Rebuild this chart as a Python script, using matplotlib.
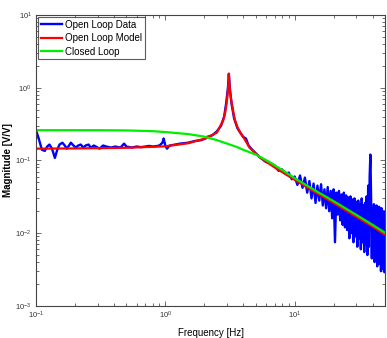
import matplotlib
matplotlib.use("Agg")
import matplotlib.pyplot as plt
from matplotlib.ticker import LogLocator, NullFormatter

plt.rcParams["font.family"] = ["Liberation Sans", "DejaVu Sans"]

# open loop measurement (noisy), low/mid frequency part
data_freq_low = [
  0.100, 0.105, 0.111, 0.117, 0.122, 0.127, 0.133, 0.140, 0.146, 0.152,
  0.160, 0.167, 0.173, 0.180, 0.186, 0.195, 0.203, 0.212, 0.222, 0.232,
  0.242, 0.255, 0.265, 0.28, 0.29, 0.31, 0.33, 0.35, 0.38, 0.41,
  0.45, 0.48, 0.50, 0.55, 0.6, 0.65, 0.7, 0.75, 0.8, 0.85,
  0.9, 0.95, 0.97, 1.0, 1.03, 1.08, 1.15, 1.3, 1.5, 1.7,
  1.9, 2.05, 2.1, 2.3, 2.5, 2.7, 2.85, 2.95, 3.05, 3.1,
  3.15, 3.25, 3.4, 3.6, 3.8, 4.0, 4.2, 4.4, 4.7, 5.0,
  5.4, 6.0, 6.5, 7.0, 7.5, 8.0, 8.5, 9.0, 9.5,
]
data_mag_low = [
  0.26, 0.20, 0.14, 0.135, 0.155, 0.165, 0.145, 0.108, 0.14, 0.165,
  0.175, 0.16, 0.145, 0.16, 0.175, 0.16, 0.15, 0.16, 0.165, 0.15,
  0.16, 0.165, 0.15, 0.16, 0.155, 0.145, 0.16, 0.155, 0.15, 0.155,
  0.15, 0.17, 0.155, 0.15, 0.155, 0.152, 0.155, 0.158, 0.155, 0.157,
  0.16, 0.175, 0.20, 0.16, 0.145, 0.16, 0.163, 0.17, 0.175, 0.185,
  0.19, 0.20, 0.21, 0.22, 0.25, 0.30, 0.40, 0.60, 1.0, 1.55,
  1.0, 0.60, 0.38, 0.28, 0.24, 0.21, 0.20, 0.16, 0.14, 0.125,
  0.11, 0.095, 0.092, 0.085, 0.072, 0.075, 0.065, 0.068, 0.055,
]

# high frequency part, 0.5 Hz spacing
data_freq_high = [
  10.0, 10.5, 11.0, 11.5, 12.0, 12.5, 13.0, 13.5, 14.0, 14.5,
  15.0, 15.5, 16.0, 16.5, 17.0, 17.5, 18.0, 18.5, 19.0, 19.5,
  20.0, 20.5, 21.0, 21.5, 22.0, 22.5, 23.0, 23.5, 24.0, 24.5,
  25.0, 25.5, 26.0, 26.5, 27.0, 27.5, 28.0, 28.5, 29.0, 29.5,
  30.0, 30.5, 31.0, 31.5, 32.0, 32.5, 33.0, 33.5, 34.0, 34.5,
  35.0, 35.5, 36.0, 36.5, 37.0, 37.5, 38.0, 38.5, 39.0, 39.5,
  40.0, 40.5, 41.0, 41.5, 42.0, 42.5, 43.0, 43.5, 44.0, 44.5,
  45.0, 45.5, 46.0, 46.5, 47.0, 47.5, 48.0, 48.5, 49.0, 49.5,
  50.0,
]
data_mag_high = [
  0.060, 0.046, 0.062, 0.042, 0.058, 0.036, 0.052, 0.030, 0.048, 0.026,
  0.045, 0.028, 0.047, 0.024, 0.040, 0.022, 0.043, 0.020, 0.038, 0.016,
  0.040, 0.0075, 0.036, 0.018, 0.038, 0.015, 0.034, 0.013, 0.036, 0.012,
  0.033, 0.011, 0.031, 0.0085, 0.032, 0.010, 0.029, 0.0075, 0.030, 0.009,
  0.027, 0.0065, 0.028, 0.0085, 0.025, 0.0060, 0.030, 0.0075, 0.024, 0.0055,
  0.026, 0.0070, 0.032, 0.0050, 0.045, 0.0065, 0.060, 0.12, 0.030, 0.0045,
  0.022, 0.0060, 0.025, 0.0040, 0.021, 0.0050, 0.024, 0.0035, 0.020, 0.0045,
  0.023, 0.0038, 0.019, 0.0030, 0.022, 0.0042, 0.018, 0.0032, 0.020, 0.0029,
  0.017,
]

# fitted open loop model
model_freq = [
  0.1, 0.2, 0.5, 1.0, 1.5, 2.0, 2.5, 2.8, 2.9, 2.95,
  3.0, 3.05, 3.08, 3.1, 3.12, 3.15, 3.2, 3.27, 3.35, 3.45,
  3.6, 3.8, 4.0, 4.5, 5.0, 5.4, 6.0, 7.0, 8.0, 10.0,
  15.0, 20.0, 30.0, 40.0, 50.0,
]
model_mag = [
  0.145, 0.146, 0.149, 0.156, 0.172, 0.198, 0.24, 0.355, 0.45, 0.55,
  0.68, 0.92, 1.2, 1.55, 1.2, 0.95, 0.75, 0.6, 0.47, 0.36,
  0.29, 0.24, 0.21, 0.148, 0.125, 0.11, 0.096, 0.08, 0.069, 0.054,
  0.035, 0.026, 0.0168, 0.0123, 0.0095,
]

# closed loop response
closed_freq = [0.1, 0.3, 0.5, 0.8, 1.0, 1.5, 2.0, 2.5, 3.0, 3.5, 4.0, 5.0, 6.0, 8.0, 10.0, 15.0, 20.0, 30.0, 40.0, 50.0]
closed_mag = [0.26, 0.26, 0.258, 0.252, 0.245, 0.23, 0.212, 0.19, 0.17, 0.155, 0.14, 0.12, 0.101, 0.074, 0.057, 0.037, 0.0275, 0.0178, 0.013, 0.0101]

fig = plt.figure(figsize=(3.87, 3.38), dpi=100)
ax = fig.add_axes([0.093, 0.095, 0.902, 0.861])

ax.plot(data_freq_low + data_freq_high, data_mag_low + data_mag_high,
        color="#0000ff", lw=1.7, label="Open Loop Data")
ax.plot(model_freq, model_mag, color="#ff0000", lw=1.6, label="Open Loop Model")
ax.plot(closed_freq, closed_mag, color="#00ee00", lw=1.6, label="Closed Loop")

ax.set_xscale("log")
ax.set_yscale("log")
ax.set_xlim(0.1, 50)
ax.set_ylim(1e-3, 10)

for axis in (ax.xaxis, ax.yaxis):
  axis.set_major_locator(LogLocator(base=10, numticks=10))
  axis.set_minor_locator(LogLocator(base=10, subs=range(2, 10), numticks=20))
  axis.set_minor_formatter(NullFormatter())

ax.tick_params(which="both", direction="in", top=True, right=True,
               labelsize=5.5, labelcolor="#333333", color="#555555", width=0.6)
ax.tick_params(which="major", length=3.5, pad=3)
ax.tick_params(which="minor", length=2)
for s in ax.spines.values():
  s.set_linewidth(0.8)
  s.set_color("#444444")

ax.set_xlabel("Frequency [Hz]", fontsize=7)
ax.set_ylabel("Magnitude [V/V]", fontsize=7, fontweight="bold")
ax.xaxis.set_label_coords(0.5, -0.075)
ax.yaxis.set_label_coords(-0.066, 0.5)

leg = ax.legend(loc="upper left", fontsize=7, frameon=True, fancybox=False,
                borderaxespad=0.2, handlelength=2.2, handletextpad=0.3,
                borderpad=0.3, labelspacing=0.35)
leg.get_frame().set_edgecolor("#333333")
leg.get_frame().set_linewidth(0.8)

fig.savefig("out.png", dpi=100)
